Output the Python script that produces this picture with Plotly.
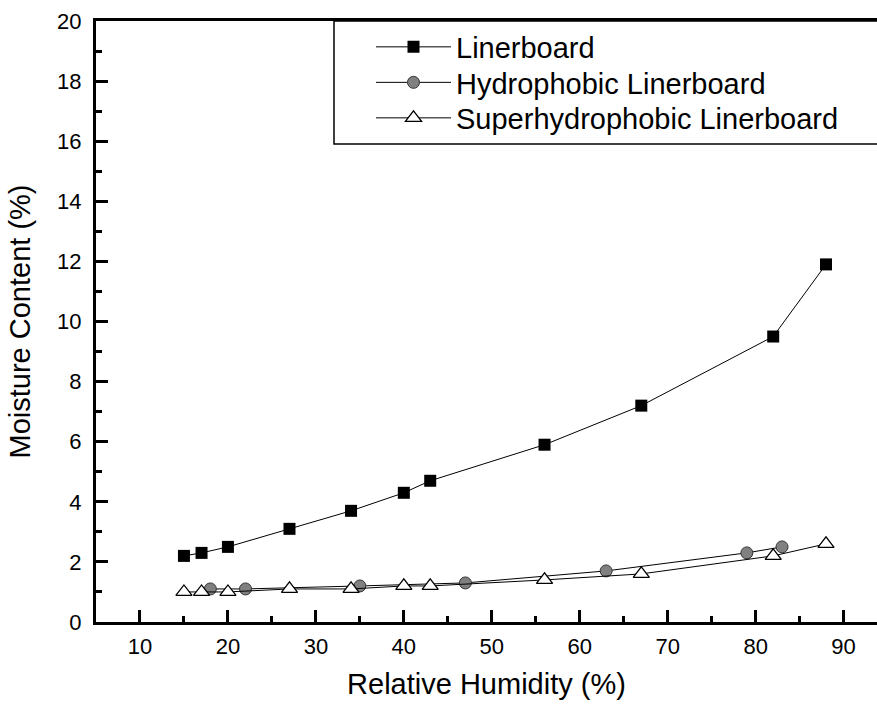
import plotly.graph_objects as go

# Data
rh_liner = [15, 17, 20, 27, 34, 40, 43, 56, 67, 82, 88]
mc_liner = [2.2, 2.3, 2.5, 3.1, 3.7, 4.3, 4.7, 5.9, 7.2, 9.5, 11.9]

rh_hydro = [18, 22, 35, 47, 63, 79, 83]
mc_hydro = [1.1, 1.1, 1.2, 1.3, 1.7, 2.3, 2.5]

rh_super = [15, 17, 20, 27, 34, 40, 43, 56, 67, 82, 88]
mc_super = [1.0, 1.0, 1.0, 1.1, 1.1, 1.2, 1.2, 1.4, 1.6, 2.2, 2.6]

names = ["Linerboard", "Hydrophobic Linerboard", "Superhydrophobic Linerboard"]
x_ticks = [10, 20, 30, 40, 50, 60, 70, 80, 90]
y_ticks = [0, 2, 4, 6, 8, 10, 12, 14, 16, 18, 20]

FONT = "Arial, Liberation Sans, sans-serif"
W, H = 877, 708
ML, MR, MT, MB = 96, 0, 21, 86
PW = W - ML - MR
PH = H - MT - MB


def px_x(p):
    return (p - ML) / PW


def px_y(p):
    return (H - MB - p) / PH


fig = go.Figure()
fig.add_trace(go.Scatter(
    x=rh_liner, y=mc_liner, name=names[0], mode="lines+markers", legend="legend",
    line=dict(color="black", width=1),
    marker=dict(symbol="square", size=12, color="black", line=dict(width=0)),
))
fig.add_trace(go.Scatter(
    x=rh_hydro, y=mc_hydro, name=names[1], mode="lines+markers", legend="legend2",
    line=dict(color="black", width=1),
    marker=dict(symbol="circle", size=12, color="#808080", line=dict(color="#333333", width=1)),
))
fig.add_trace(go.Scatter(
    x=rh_super, y=mc_super, name=names[2], mode="lines+markers", legend="legend3",
    line=dict(color="black", width=1),
    marker=dict(symbol="triangle-up", size=14, color="white", line=dict(color="black", width=1.3)),
))

fig.add_shape(type="rect", xref="paper", yref="paper",
              x0=px_x(334), x1=1.05, y0=px_y(144), y1=1.0,
              line=dict(color="black", width=1.5), fillcolor="rgba(0,0,0,0)", layer="above")


def leg(row_y):
    return dict(
        x=px_x(371), y=px_y(row_y), xanchor="left", yanchor="middle",
        xref="paper", yref="paper",
        font=dict(size=29, family=FONT, color="black"),
        bgcolor="rgba(0,0,0,0)", borderwidth=0,
        itemwidth=75,
    )


fig.update_layout(
    width=W, height=H,
    margin=dict(l=ML, r=MR, t=MT, b=MB),
    paper_bgcolor="white", plot_bgcolor="white",
    font=dict(family=FONT, color="black"),
    showlegend=True,
    legend=leg(47),
    legend2=leg(82.5),
    legend3=leg(118),
    xaxis=dict(
        range=[5, 5 + PW / 8.795],
        tickmode="array", tickvals=x_ticks,
        ticks="inside", ticklen=12, tickwidth=2.5, tickcolor="black",
        minor=dict(dtick=5, tick0=5, ticks="inside", ticklen=6, tickwidth=2.5, tickcolor="black"),
        showline=True, linecolor="black", linewidth=3, mirror=True,
        showgrid=False, zeroline=False,
        ticklabelstandoff=3,
        tickfont=dict(size=22, family=FONT, color="black"),
        title=dict(text="Relative Humidity (%)", font=dict(size=29, family=FONT, color="black"), standoff=16),
    ),
    yaxis=dict(
        range=[0, 20],
        tickmode="array", tickvals=y_ticks,
        ticks="inside", ticklen=12, tickwidth=2.5, tickcolor="black",
        minor=dict(dtick=1, tick0=0, ticks="inside", ticklen=6, tickwidth=2.5, tickcolor="black"),
        showline=True, linecolor="black", linewidth=3, mirror=False,
        showgrid=False, zeroline=False,
        ticklabelstandoff=7,
        tickfont=dict(size=22, family=FONT, color="black"),
        title=dict(text="Moisture Content (%)", font=dict(size=29, family=FONT, color="black"), standoff=18),
    ),
)

fig.write_html("out.html")
